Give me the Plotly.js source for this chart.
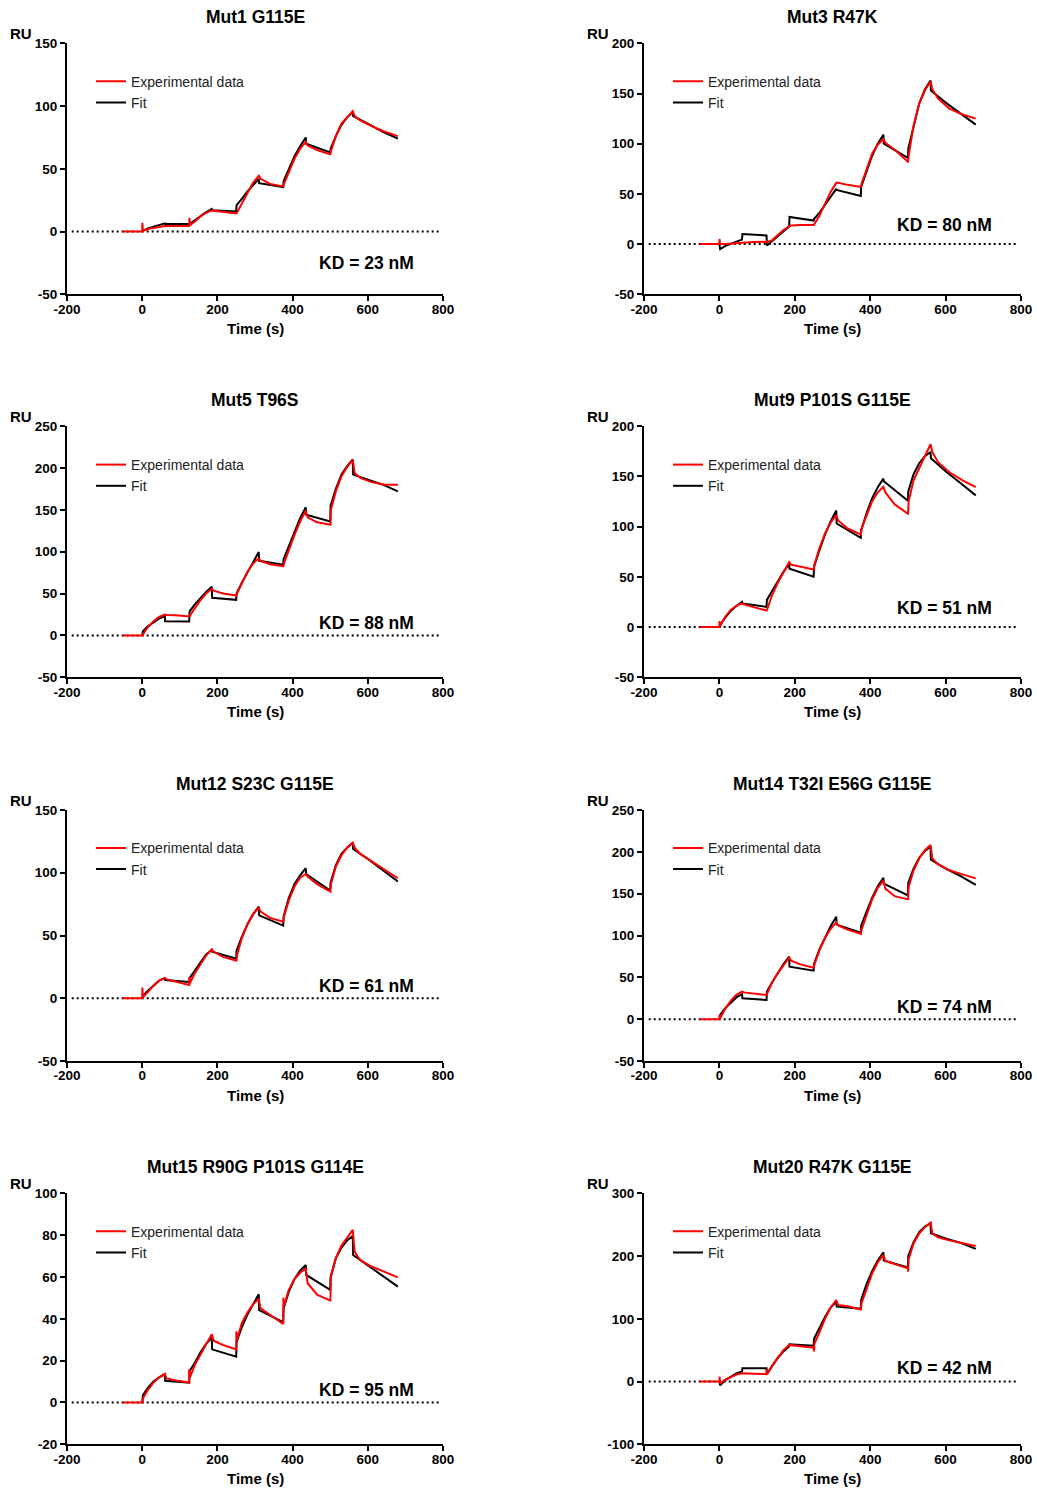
<!DOCTYPE html>
<html><head><meta charset="utf-8">
<script src="https://cdn.plot.ly/plotly-3.0.1.min.js"></script>
<style>html,body{margin:0;padding:0;background:#fff}#chart{width:1037px;height:1488px}</style>
</head><body><div id="chart"></div>
<script>
// ---- Data ----
const T_EXP = [-52, 0, 0.5, 2, 15, 30, 45, 60, 65, 90, 125, 125.5, 127, 140, 155, 170, 185, 190, 215, 250, 250.5, 252, 265, 280, 295, 310, 315, 340, 375, 375.5, 377, 390, 405, 420, 435, 440, 465, 500, 500.5, 502, 515, 530, 545, 560, 565, 580, 610, 645, 680];
const T_FIT = [0, 2, 15, 30, 45, 60, 61, 125, 126, 140, 155, 170, 185, 186, 250, 251, 265, 280, 295, 310, 311, 375, 376, 390, 405, 420, 435, 436, 500, 501, 515, 530, 545, 560, 561, 600, 640, 680];

const MUT1_EXP = [0,0,7,0.5,2,3,4,4.5,4.5,4.5, 4.5,11,5,8,12,15,17,16.5,15.5,14.5, 14.5,15,22,31,39,44.5,42,38,36,36, 38,48,58,66,71.5,68.5,65,61.5,61.5,64, 76,86,91,96,92,88.5,84,79.5,76];
const MUT1_FIT = [0,0.5,2.5,4,5.5,6.5,6,5.8,6,9, 12.5,15.5,18,17,16,21,26,32,37,42, 38.5,35.5,40,50,60,68,75,70,63,66, 76,85,91,95,92,86,79.5,74];

const MUT3_EXP = [0,0,5,0,0,0.5,1,1,1.5,2, 2.3,4,2,4,9,14,17.6,18.5,19,19, 19,20,28,40,52,61,61,59,57,57, 60,75,90,99,104.5,101,94,82,82,88, 118,140,153,162,154,145,135,129,125];
const MUT3_FIT = [0,-5,-2,0.5,2.5,4.5,10,8.6,-1.3,3, 8,13,17.5,27,23.5,25,31,39,47,55, 54,48,57,72,88,100,109,100,86,95, 118,140,154,163,153,141,130,119];

const MUT5_EXP = [0,0,0,1,10,17,22,25,24.5,24, 22.7,22.7,24,33,42,50,55.7,53.5,50,47.8, 47.8,50,62,76,86,92,89,85,82.5,82.5, 86,103,120,136,149,141,135,132,132,150, 172,190,201,209.5,194,188,183,180,180];
const MUT5_FIT = [0,5,11,16,20,23,17,16.5,28.6,37, 45,52,58,45,42.5,50,63,75,87,99.5, 89,84.5,91,106,124,140,153,144,136,155, 175,192,202,210,192,186,180,172];

const MUT9_EXP = [0,0,6,1,10,17,21,23.5,22.5,20, 16.3,16.3,18,32,44,55,64.5,62,60,57.2, 57.2,62,78,93,104,111,106,98,92,92, 98,111,125,134,139.5,134,122,112.7,112.7,125, 146,158,170,181.8,174,164,154,146,139.3];
const MUT9_FIT = [0,2,9,16,21,25,23.5,20,27,36, 46,55,62.5,58,50.2,60,76,92,105,116, 103,88.8,96,113,128,139,147.6,145,125.7,135, 152,163,170,174.2,168,155,143,131];

const MUT12_EXP = [0,0,8.5,1,5,10,14,16.2,15,13, 10.6,17,12,20,27,34,39,37,33,30, 30,34,48,59,67,72.2,69,64,61,61, 65,78,89,96,99,97,91,85,85,91, 105,114,120,124,120,115,109,102,95.6];
const MUT12_FIT = [0,2,6,10,14,16,14.5,13,16,22, 29,35,38.5,37,31.6,38,49,59,67,73, 66,57.9,65,80,91,98,103.6,99,85.8,92, 106,115,120,124,119,111,102,93];

const MUT14_EXP = [0,0,5,1,12,22,29,33,32,31, 28.9,28.9,31,44,55,65,73.5,70,65.5,61.6, 61.6,65,82,97,108,115.7,112,107,101.8,101.8, 107,125,143,157,165.5,156,147,143.2,143.2,158, 178,192,202,208.2,192,185,178,173,168.3];
const MUT14_FIT = [0,5,13,20,26,30,25,22.9,33,44, 55,66,74.7,62.7,58,66,83,98,111,122.5, 113,103.4,112,128,145,159,169,162,148,163, 180,193,201,206,190.6,180,171,160.6];

const MUT15_EXP = [0,0,0,2,6,9.5,12,13.6,11.5,10.5, 9.5,16,12,18,23,28,32.6,29.5,27.5,25.4, 34,30,38,43,47,49.5,45,42,37.5,50, 46,54,59,62,64.1,57,51.5,48.7,48.7,60, 69,75,79,82.5,72,68,65,62.5,59.8];
const MUT15_FIT = [0,3.5,7,10,12,13.5,10.4,9.5,15,19, 24,28,31,25.4,21.9,29,36,42,47,51.7, 44.2,38.4,45,53,59,63,65.7,61,53.8,60, 69,74,77.5,79.6,70.5,65.5,60.5,55.4];

const MUT20_EXP = [0,0,8,-3,3,7,11,13.3,13,12.5, 11.7,20,12,25,38,50,58.4,58,56,54, 48,60,78,100,118,130,122,120,115,115, 125,148,172,190,202,192,187,180.6,175,195, 220,236,246,253.4,236,230,225,221,216];
const MUT20_FIT = [0,-6,2,8,13,16,21,21,12,25, 38,48,56,59.5,57,68,85,103,118,127, 119.5,116,130,155,176,193,206,193,182,200, 222,238,247,252,236.4,228,221,211.4];

const TITLES = ['Mut1 G115E','Mut3 R47K','Mut5 T96S','Mut9 P101S G115E','Mut12 S23C G115E','Mut14 T32I E56G G115E','Mut15 R90G P101S G114E','Mut20 R47K G115E'];
const KD_LABELS = ['KD = 23 nM','KD = 80 nM','KD = 88 nM','KD = 51 nM','KD = 61 nM','KD = 74 nM','KD = 95 nM','KD = 42 nM'];
const SERIES_NAMES = ['Experimental data','Fit'];
const X_TICKS = [-200, 0, 200, 400, 600, 800];
const Y_TICKS = [
  [-50, 0, 50, 100, 150],
  [-50, 0, 50, 100, 150, 200],
  [-50, 0, 50, 100, 150, 200, 250],
  [-50, 0, 50, 100, 150, 200],
  [-50, 0, 50, 100, 150],
  [-50, 0, 50, 100, 150, 200, 250],
  [-20, 0, 20, 40, 60, 80, 100],
  [-100, 0, 100, 200, 300]
];
const X_LABEL = 'Time (s)';
const Y_LABEL = 'RU';

// ---- Layout / style configuration ----
const W = 1037, H = 1488;
const COLS = [[67, 443], [644, 1021]];
const ROWS = [[43.3, 294.3], [426, 677.3], [810, 1061], [1193.3, 1444.3]];
const FONT = '"Liberation Sans", Arial, Helvetica, sans-serif';
const PANELS = [
  {exp: MUT1_EXP,  fit: MUT1_FIT,  kdY: 0.125},
  {exp: MUT3_EXP,  fit: MUT3_FIT,  kdY: 0.276},
  {exp: MUT5_EXP,  fit: MUT5_FIT,  kdY: 0.215},
  {exp: MUT9_EXP,  fit: MUT9_FIT,  kdY: 0.275},
  {exp: MUT12_EXP, fit: MUT12_FIT, kdY: 0.300},
  {exp: MUT14_EXP, fit: MUT14_FIT, kdY: 0.216},
  {exp: MUT15_EXP, fit: MUT15_FIT, kdY: 0.216},
  {exp: MUT20_EXP, fit: MUT20_FIT, kdY: 0.303}
];
const LEGEND_X = [91, 668];
const LEGEND_Y = [92.2, 475.5, 858.8, 1242.2];

const traces = [];
const annotations = [];
const shapes = [];
const layout = {
  width: W, height: H,
  margin: {l: 0, r: 0, t: 0, b: 0, pad: 0},
  paper_bgcolor: '#ffffff', plot_bgcolor: 'rgba(0,0,0,0)',
  font: {family: FONT, color: '#000'},
  showlegend: true
};

const axisBase = {
  showline: true, linecolor: '#000', linewidth: 2,
  ticks: 'outside', ticklen: 5, tickwidth: 2, tickcolor: '#000',
  showgrid: false, zeroline: false, fixedrange: true,
  tickmode: 'array',
  tickfont: {family: FONT, size: 13.5, color: '#000', weight: 'bold'}
};

PANELS.forEach((p, i) => {
  const n = i + 1;
  const sfx = n === 1 ? '' : String(n);
  const col = i % 2, row = Math.floor(i / 2);
  const xName = 'x' + sfx, yName = 'y' + sfx;
  const yt = Y_TICKS[i];
  layout['xaxis' + sfx] = Object.assign({}, axisBase, {
    domain: [COLS[col][0] / W, COLS[col][1] / W],
    range: [X_TICKS[0], X_TICKS[X_TICKS.length - 1]],
    tickvals: X_TICKS, ticktext: X_TICKS.map(String),
    ticklabelstandoff: -4, anchor: yName
  });
  layout['yaxis' + sfx] = Object.assign({}, axisBase, {
    domain: [1 - ROWS[row][1] / H, 1 - ROWS[row][0] / H],
    range: [yt[0], yt[yt.length - 1]],
    tickvals: yt, ticktext: yt.map(String), anchor: xName
  });
  const leg = n === 1 ? 'legend' : 'legend' + n;
  traces.push({
    x: T_FIT, y: p.fit, xaxis: xName, yaxis: yName, type: 'scatter', mode: 'lines',
    name: SERIES_NAMES[1], legend: leg, legendrank: 2,
    line: {color: '#000000', width: 2}, hoverinfo: 'skip'
  });
  traces.push({
    x: T_EXP, y: p.exp, xaxis: xName, yaxis: yName, type: 'scatter', mode: 'lines',
    name: SERIES_NAMES[0], legend: leg, legendrank: 1,
    line: {color: '#ff0000', width: 2}, hoverinfo: 'skip'
  });
  layout[leg] = {
    x: LEGEND_X[col] / W, y: 1 - LEGEND_Y[row] / H,
    xanchor: 'left', yanchor: 'middle', xref: 'paper', yref: 'paper',
    bgcolor: 'rgba(0,0,0,0)', borderwidth: 0,
    font: {family: FONT, size: 14, color: '#222'}
  };
  const xd = xName + ' domain', yd = yName + ' domain';
  shapes.push({
    type: 'line', xref: xd, yref: yName, x0: 0.0125, x1: 0.994, y0: 0, y1: 0,
    line: {color: '#000', width: 2, dash: '2px,3px'}, layer: 'below'
  });
  annotations.push({
    xref: xd, yref: yd, x: 0.5, y: 1 + 26 / 251, xanchor: 'center', yanchor: 'middle',
    text: '<b>' + TITLES[i] + '</b>', showarrow: false, font: {family: FONT, size: 17.5, color: '#000'}
  });
  annotations.push({
    xref: xd, yref: yd, x: -0.123, y: 1.038, xanchor: 'center', yanchor: 'middle',
    text: '<b>' + Y_LABEL + '</b>', showarrow: false, font: {family: FONT, size: 15, color: '#000'}
  });
  annotations.push({
    xref: xd, yref: yd, x: 0.5, y: -34 / 251, xanchor: 'center', yanchor: 'middle',
    text: '<b>' + X_LABEL + '</b>', showarrow: false, font: {family: FONT, size: 15, color: '#000'}
  });
  annotations.push({
    xref: xd, yref: yd, x: 0.797, y: p.kdY, xanchor: 'center', yanchor: 'middle',
    text: '<b>' + KD_LABELS[i] + '</b>', showarrow: false, font: {family: FONT, size: 17.5, color: '#000'}
  });
});
layout.annotations = annotations;
layout.shapes = shapes;

Plotly.newPlot('chart', traces, layout, {displayModeBar: false, staticPlot: true});
</script>
</body></html>
